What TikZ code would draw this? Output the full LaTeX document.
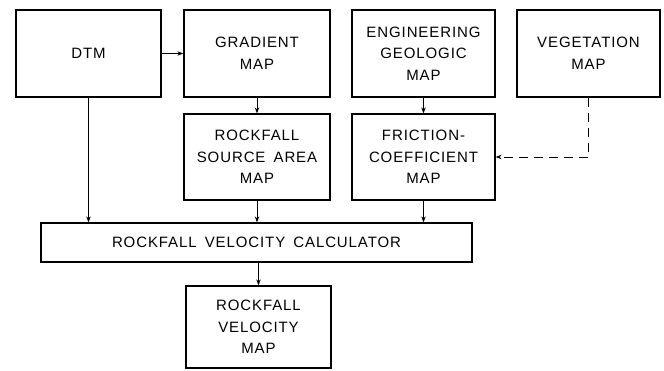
\documentclass[tikz,border=0pt]{standalone}
\usepackage{fontspec}
\setmainfont{Liberation Sans}[LetterSpace=6,WordSpace=1.6]
\usetikzlibrary{arrows.meta}
\begin{document}
\begin{tikzpicture}[x=1pt,y=-1pt,
  box/.style={draw,line width=1.3pt,inner sep=0pt,align=center,
    font=\fontsize{15}{21.5}\selectfont},
  conn/.style={line width=0.9pt,-{Stealth[length=6pt,width=4.5pt]}},
  dconn/.style={conn,dash pattern=on 9pt off 6pt}]
\useasboundingbox (0,0) rectangle (664,370);
\node[box,minimum width=145pt,minimum height=87pt] (dtm) at (88.5,53.5) {DTM};
\node[box,minimum width=146pt,minimum height=87pt] (grad) at (257,53.5) {GRADIENT\\MAP};
\node[box,minimum width=143pt,minimum height=87pt] (eng) at (423.5,53.5) {ENGINEERING\\GEOLOGIC\\MAP};
\node[box,minimum width=143pt,minimum height=87pt] (veg) at (588.5,53.5) {VEGETATION\\MAP};
\node[box,minimum width=146pt,minimum height=86pt] (src) at (257,157) {ROCKFALL\\SOURCE AREA\\MAP};
\node[box,minimum width=143pt,minimum height=86pt] (fric) at (423.5,157) {FRICTION-\\COEFFICIENT\\MAP};
\node[box,minimum width=431pt,minimum height=39pt] (calc) at (256.5,242.5) {ROCKFALL VELOCITY CALCULATOR};
\node[box,minimum width=145pt,minimum height=82pt] (vel) at (258.5,327) {ROCKFALL\\VELOCITY\\MAP};
\draw[conn] (dtm.east) -- (grad.west);
\draw[conn] (grad.south) -- (src.north);
\draw[conn] (eng.south) -- (fric.north);
\draw[conn] (dtm.south) -- (dtm.south |- calc.north);
\draw[conn] (src.south) -- (src.south |- calc.north);
\draw[conn] (fric.south) -- (fric.south |- calc.north);
\draw[conn] (vel.north |- calc.south) -- (vel.north);
\draw[dconn] (veg.south) -- (veg.south |- fric.east) -- (fric.east);
\end{tikzpicture}
\end{document}
